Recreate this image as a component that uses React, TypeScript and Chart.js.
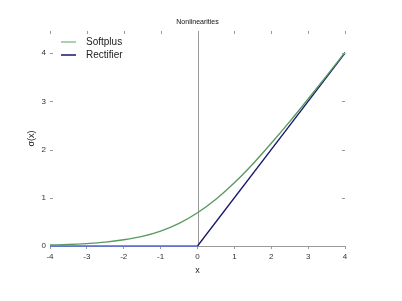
import React, { useEffect, useRef } from "react";
import { Chart, registerables } from "chart.js";

Chart.register(...registerables);

const TITLE = "Nonlinearities";
const X_LABEL = "x";
const Y_LABEL = "σ(x)";
const X_TICKS = [-4, -3, -2, -1, 0, 1, 2, 3, 4];
const Y_TICKS = [0, 1, 2, 3, 4];

const softplusX = [-4, -3.5, -3, -2.5, -2, -1.5, -1, -0.5, 0, 0.5, 1, 1.5, 2, 2.5, 3, 3.5, 4];
const softplusY = [0.02, 0.03, 0.05, 0.08, 0.13, 0.2, 0.31, 0.47, 0.69, 0.97, 1.31, 1.7, 2.13, 2.58, 3.05, 3.53, 4.02];

const rectifierX = [-4, 0, 4];
const rectifierY = [0, 0, 4];

const SERIES_NAMES = ["Softplus", "Rectifier"];
const LEGEND_COLORS = ["#8fc08f", "#14146e"];

const FONT = "'Liberation Sans', Arial, Helvetica, sans-serif";

const framePlugin = {
  id: "frameTicks",
  beforeDatasetsDraw(chart: any) {
    const { ctx, chartArea, scales } = chart;
    const x0 = scales.x.getPixelForValue(0);
    ctx.save();
    ctx.strokeStyle = "#9a9a9a";
    ctx.lineWidth = 1;
    ctx.beginPath();
    ctx.moveTo(Math.round(x0) + 0.5, chartArea.top);
    ctx.lineTo(Math.round(x0) + 0.5, chartArea.bottom);
    ctx.stroke();
    ctx.restore();
  },
  afterDraw(chart: any) {
    const { ctx, chartArea, scales } = chart;
    ctx.save();
    // title centred over the plot area
    ctx.font = `7px ${FONT}`;
    ctx.fillStyle = "#111";
    ctx.textAlign = "center";
    ctx.textBaseline = "middle";
    ctx.fillText(TITLE, (chartArea.left + chartArea.right) / 2, 22);

    ctx.strokeStyle = "#9a9a9a";
    ctx.lineWidth = 1;
    ctx.beginPath();
    X_TICKS.forEach((v) => {
      const px = Math.round(scales.x.getPixelForValue(v)) + 0.5;
      ctx.moveTo(px, chartArea.top);
      ctx.lineTo(px, chartArea.top + 3);
    });
    Y_TICKS.forEach((v) => {
      const py = Math.round(scales.y.getPixelForValue(v)) + 0.5;
      if (v !== 0) {
        ctx.moveTo(chartArea.left, py);
        ctx.lineTo(chartArea.left + 3, py);
      }
      ctx.moveTo(chartArea.right, py);
      ctx.lineTo(chartArea.right - 3, py);
    });
    ctx.stroke();

    // legend
    const lx = chartArea.left + 11;
    const rows = [42, 55];
    ctx.font = `10px ${FONT}`;
    ctx.textBaseline = "middle";
    ctx.textAlign = "left";
    SERIES_NAMES.forEach((name, i) => {
      ctx.strokeStyle = LEGEND_COLORS[i];
      ctx.lineWidth = 1.5;
      ctx.beginPath();
      ctx.moveTo(lx, rows[i]);
      ctx.lineTo(lx + 15, rows[i]);
      ctx.stroke();
      ctx.fillStyle = "#222";
      ctx.fillText(name, lx + 25, rows[i]);
    });
    ctx.restore();
  },
};

export default function App() {
  const ref = useRef<HTMLCanvasElement>(null);

  useEffect(() => {
    document.body.style.margin = "0";
    const canvas = ref.current!;
    const chart = new Chart(canvas, {
      type: "line",
      data: {
        datasets: [
          {
            label: SERIES_NAMES[0],
            data: softplusX.map((x, i) => ({ x, y: softplusY[i] })),
            borderColor: "#5a9a60",
            borderWidth: 1.4,
            pointRadius: 0,
            cubicInterpolationMode: "monotone",
            clip: false,
          } as any,
          {
            label: SERIES_NAMES[1],
            data: rectifierX.map((x, i) => ({ x, y: rectifierY[i] })),
            borderColor: "#16166e",
            borderWidth: 1.3,
            pointRadius: 0,
            clip: false,
            segment: {
              borderColor: (c: any) =>
                c.p0.parsed.y === 0 && c.p1.parsed.y === 0 ? "#5566dd" : "#16166e",
            },
          } as any,
        ],
      },
      options: {
        animation: false,
        responsive: false,
        layout: { padding: { left: 0, right: 57, top: 31, bottom: 25 } },
        plugins: {
          legend: { display: false },
          tooltip: { enabled: false },
          title: { display: false },
        },
        scales: {
          x: {
            type: "linear",
            min: -4,
            max: 4,
            afterFit: (s: any) => {
              s.height = 30;
            },
            afterBuildTicks: (s: any) => {
              s.ticks = X_TICKS.map((v) => ({ value: v }));
            },
            border: { display: true, color: "#9a9a9a", width: 1 },
            grid: { drawOnChartArea: false, drawTicks: true, tickLength: 3, color: "#9a9a9a" },
            ticks: {
              color: "#333",
              font: { family: FONT, size: 8 },
              padding: 3,
              maxRotation: 0,
            },
            title: {
              display: true,
              text: X_LABEL,
              color: "#222",
              font: { family: FONT, size: 9 },
              padding: { top: 0, bottom: 0 },
            },
          },
          y: {
            type: "linear",
            min: 0,
            max: 4.46,
            afterFit: (s: any) => {
              s.width = 50;
            },
            afterBuildTicks: (s: any) => {
              s.ticks = Y_TICKS.map((v) => ({ value: v }));
            },
            border: { display: false },
            grid: { display: false, drawTicks: false },
            ticks: {
              color: "#333",
              font: { family: FONT, size: 8 },
              padding: 4,
            },
            title: {
              display: true,
              text: Y_LABEL,
              color: "#222",
              font: { family: FONT, size: 9 },
              padding: { top: 26, bottom: 0 },
            },
          },
        },
      },
      plugins: [framePlugin],
    } as any);
    return () => chart.destroy();
  }, []);

  return <canvas ref={ref} width={402} height={301} style={{ display: "block" }} />;
}
